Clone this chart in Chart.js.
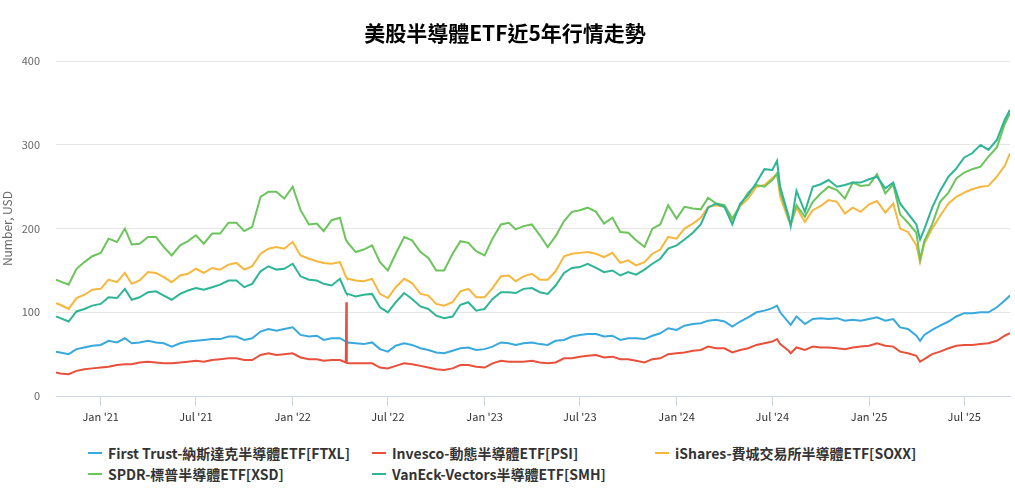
<!DOCTYPE html>
<html>
<head>
<meta charset="utf-8">
<script src="https://cdn.jsdelivr.net/npm/chart.js@4/dist/chart.umd.min.js"></script>
<style>
	body { margin: 0; background: #fff; }
	#wrap { position: relative; width: 1015px; height: 488px; }
	#legend { position: absolute; left: 0; top: 440px; width: 1015px; height: 48px;
		font-family: 'Noto Sans CJK TC', 'Noto Sans', sans-serif; font-weight: bold; font-size: 14px; color: #333; }
	.item { position: absolute; display: flex; align-items: center; white-space: nowrap; line-height: 18px; }
	.item .sym { display: inline-block; width: 14px; height: 2px; margin-right: 6px; }
</style>
</head>
<body>
<div id="wrap">
	<canvas id="chart" width="1015" height="440"></canvas>
	<div id="legend"></div>
</div>
<script>
const dates = [
	'2020-10-08', '2020-10-16', '2020-11-01', '2020-11-16', '2020-12-01', '2020-12-16',
	'2021-01-01', '2021-01-16', '2021-02-01', '2021-02-16', '2021-03-01', '2021-03-16',
	'2021-04-01', '2021-04-16', '2021-05-01', '2021-05-16', '2021-06-01', '2021-06-16',
	'2021-07-01', '2021-07-16', '2021-08-01', '2021-08-16', '2021-09-01', '2021-09-16',
	'2021-10-01', '2021-10-16', '2021-11-01', '2021-11-16', '2021-12-01', '2021-12-16',
	'2022-01-01', '2022-01-16', '2022-02-01', '2022-02-16', '2022-03-01', '2022-03-16',
	'2022-04-01', '2022-04-12', '2022-04-13', '2022-04-14', '2022-04-16', '2022-05-01',
	'2022-05-16', '2022-06-01', '2022-06-16', '2022-07-01', '2022-07-16', '2022-08-01',
	'2022-08-16', '2022-09-01', '2022-09-16', '2022-10-01', '2022-10-16', '2022-11-01',
	'2022-11-16', '2022-12-01', '2022-12-16',
	'2023-01-01', '2023-01-16', '2023-02-01', '2023-02-16', '2023-03-01', '2023-03-16',
	'2023-04-01', '2023-04-16', '2023-05-01', '2023-05-16', '2023-06-01', '2023-06-16',
	'2023-07-01', '2023-07-16', '2023-08-01', '2023-08-16', '2023-09-01', '2023-09-16',
	'2023-10-01', '2023-10-16', '2023-11-01', '2023-11-16', '2023-12-01', '2023-12-16',
	'2024-01-01', '2024-01-16', '2024-02-01', '2024-02-16', '2024-03-01', '2024-03-16',
	'2024-04-01', '2024-04-16', '2024-05-01', '2024-05-16', '2024-06-01', '2024-06-16',
	'2024-07-01', '2024-07-10', '2024-07-16', '2024-08-01', '2024-08-05', '2024-08-16',
	'2024-09-01', '2024-09-16', '2024-10-01', '2024-10-16', '2024-11-01', '2024-11-16',
	'2024-12-01', '2024-12-16',
	'2025-01-01', '2025-01-16', '2025-02-01', '2025-02-16', '2025-03-01', '2025-03-16',
	'2025-04-01', '2025-04-08', '2025-04-16', '2025-05-01', '2025-05-16', '2025-06-01',
	'2025-06-16', '2025-07-01', '2025-07-16', '2025-08-01', '2025-08-16', '2025-09-01',
	'2025-09-16', '2025-09-26'
];

// First Trust FTXL
const ftxl = [
	53, 52, 50, 56, 58, 60, 61, 66, 64, 69,
	63, 64, 66, 64, 63, 59, 63, 65, 66, 67,
	68, 68, 71, 71, 67, 69, 77, 80, 78, 80,
	82, 73, 71, 72, 67, 69, 69, 65, 65, 64,
	64, 63, 62, 64, 56, 53, 60, 63, 61, 57,
	55, 52, 51, 54, 57, 58, 55, 56, 59, 64,
	63, 61, 63, 64, 62, 61, 66, 67, 71, 73,
	74, 74, 71, 72, 67, 69, 69, 68, 72, 75,
	81, 79, 84, 86, 87, 90, 91, 89, 83, 89,
	94, 100, 102, 105, 108, 100, 88, 85, 95, 86,
	92, 93, 92, 93, 90, 91, 90, 92, 94, 90,
	92, 82, 80, 72, 66, 73, 79, 84, 89, 95,
	99, 99, 100, 100, 106, 114, 120
];

// Invesco PSI
const psi = [
	28, 27, 26, 30, 32, 33, 34, 35, 37, 38,
	38, 40, 41, 40, 39, 39, 40, 41, 42, 41,
	43, 44, 45, 45, 43, 43, 49, 51, 49, 50,
	51, 46, 44, 44, 42, 43, 43, 40, 112, 40,
	39, 39, 39, 39, 34, 33, 36, 39, 38, 36,
	34, 32, 31, 33, 37, 37, 35, 34, 39, 42,
	41, 41, 41, 42, 40, 39, 40, 45, 45, 47,
	48, 49, 46, 47, 44, 44, 42, 40, 44, 45,
	50, 51, 52, 54, 55, 59, 57, 57, 52, 55,
	57, 61, 63, 65, 68, 62, 54, 51, 58, 55,
	59, 58, 58, 57, 56, 58, 59, 60, 63, 60,
	59, 53, 51, 48, 41, 44, 50, 53, 57, 60,
	61, 61, 62, 63, 66, 72, 75
];

// iShares SOXX
const soxx = [
	111, 109, 104, 117, 121, 127, 128, 139, 136, 147,
	134, 138, 148, 147, 142, 136, 144, 146, 152, 147,
	153, 151, 157, 159, 151, 155, 170, 176, 178, 176,
	184, 168, 164, 161, 159, 158, 160, 143, 142, 141,
	140, 138, 137, 140, 122, 117, 130, 140, 135, 122,
	120, 110, 108, 112, 125, 128, 118, 118, 129, 143,
	144, 137, 143, 146, 139, 139, 149, 167, 170, 171,
	172, 170, 166, 171, 159, 162, 156, 160, 170, 175,
	190, 188, 200, 206, 213, 226, 228, 226, 210, 227,
	236, 250, 252, 260, 265, 238, 210, 205, 225, 208,
	222, 227, 234, 232, 218, 225, 220, 229, 233, 219,
	230, 200, 196, 180, 160, 182, 200, 215, 230, 238,
	243, 247, 250, 251, 262, 275, 290
];

// SPDR XSD
const xsd = [
	139, 137, 133, 152, 160, 167, 171, 188, 184, 200,
	181, 182, 190, 190, 178, 168, 180, 185, 192, 182,
	194, 194, 207, 207, 197, 202, 238, 244, 244, 236,
	250, 222, 205, 206, 197, 210, 213, 187, 186, 185,
	183, 172, 175, 180, 160, 150, 170, 190, 186, 172,
	165, 150, 150, 170, 185, 183, 173, 168, 188, 205,
	207, 199, 203, 205, 192, 178, 191, 209, 220, 222,
	225, 220, 206, 213, 196, 195, 186, 178, 200, 205,
	228, 212, 226, 224, 223, 237, 230, 228, 212, 228,
	243, 252, 250, 258, 266, 245, 212, 205, 228, 214,
	232, 242, 250, 246, 236, 255, 251, 252, 265, 242,
	253, 217, 207, 195, 163, 185, 205, 232, 243, 260,
	267, 271, 274, 286, 297, 325, 338
];

// VanEck SMH
const smh = [
	95, 93, 89, 101, 104, 108, 110, 118, 117, 128,
	115, 118, 124, 125, 120, 115, 122, 126, 129, 127,
	130, 133, 138, 138, 130, 134, 149, 155, 151, 152,
	158, 143, 139, 138, 134, 132, 140, 124, 123, 122,
	122, 119, 121, 122, 106, 100, 112, 123, 116, 107,
	104, 96, 93, 95, 109, 112, 102, 104, 116, 124,
	124, 123, 128, 129, 124, 122, 132, 147, 153, 154,
	158, 153, 148, 150, 144, 148, 145, 151, 158, 164,
	176, 180, 187, 195, 205, 225, 230, 226, 205, 230,
	240, 255, 271, 270, 281, 250, 215, 203, 245, 220,
	250, 253, 258, 250, 252, 255, 255, 259, 262, 248,
	255, 230, 218, 205, 187, 199, 225, 245, 262, 272,
	285, 290, 300, 294, 306, 330, 342
];

const seriesNames = [
	'First Trust-納斯達克半導體ETF[FTXL]',
	'Invesco-動態半導體ETF[PSI]',
	'iShares-費城交易所半導體ETF[SOXX]',
	'SPDR-標普半導體ETF[XSD]',
	'VanEck-Vectors半導體ETF[SMH]'
];
const seriesValues = [ftxl, psi, soxx, xsd, smh];
const colors = ['#38a9dc', '#e9503c', '#f6b73c', '#6cc45c', '#2db596'];

const tickDates = ['2021-01-01', '2021-07-01', '2022-01-01', '2022-07-01', '2023-01-01',
	'2023-07-01', '2024-01-01', '2024-07-01', '2025-01-01', '2025-07-01'];
const tickLabels = ["Jan '21", "Jul '21", "Jan '22", "Jul '22", "Jan '23",
	"Jul '23", "Jan '24", "Jul '24", "Jan '25", "Jul '25"];

const toMs = d => Date.parse(d + 'T00:00:00Z');
const font = "'Noto Sans CJK TC', 'Noto Sans', sans-serif";

const datasets = seriesValues.map((values, i) => ({
	label: seriesNames[i],
	data: values.map((v, j) => ({ x: toMs(dates[j]), y: v })),
	borderColor: colors[i],
	backgroundColor: colors[i],
	borderWidth: 2,
	pointRadius: 0,
	tension: 0,
	order: seriesValues.length - i
}));

const ctx = document.getElementById('chart').getContext('2d');

const chart = new Chart(ctx, {
	type: 'line',
	data: { datasets: datasets },
	options: {
		responsive: false,
		animation: false,
		layout: { padding: { left: 0, right: 5, top: 0, bottom: 0 } },
		plugins: {
			legend: { display: false },
			tooltip: { enabled: false },
			title: {
				display: true,
				text: '美股半導體ETF近5年行情走勢',
				color: '#000',
				font: { family: font, size: 21, weight: 'bold' },
				padding: { top: 20, bottom: 16 }
			}
		},
		scales: {
			x: {
				type: 'linear',
				min: toMs(dates[0]),
				max: toMs(dates[dates.length - 1]),
				afterBuildTicks: scale => {
					scale.ticks = tickDates.map(d => ({ value: toMs(d) }));
				},
				afterFit: scale => { scale.height = 44; },
				ticks: {
					autoSkip: false,
					maxRotation: 0,
					padding: 4,
					color: '#333',
					font: { family: font, size: 11 },
					callback: value => tickLabels[tickDates.map(toMs).indexOf(value)]
				},
				grid: { drawOnChartArea: false, color: '#ccd6eb', tickLength: 10 },
				border: { color: '#ccd6eb' }
			},
			y: {
				min: 0,
				max: 400,
				afterFit: scale => { scale.width = 56; },
				ticks: {
					stepSize: 100,
					padding: 16,
					color: '#666',
					font: { family: font, size: 11 }
				},
				grid: { color: '#e6e6e6', drawTicks: false },
				border: { display: false },
				title: {
					display: true,
					text: 'Number, USD',
					color: '#666',
					font: { family: font, size: 12 },
					padding: { top: 0, bottom: 0 }
				}
			}
		}
	}
});

// legend laid out in three columns like the original
const legendCols = [88, 372, 655];
const legendRows = [4, 25];
const legendEl = document.getElementById('legend');
chart.data.datasets.forEach((ds, i) => {
	const item = document.createElement('div');
	item.className = 'item';
	item.style.left = legendCols[i % 3] + 'px';
	item.style.top = legendRows[Math.floor(i / 3)] + 'px';
	const sym = document.createElement('span');
	sym.className = 'sym';
	sym.style.background = ds.borderColor;
	item.appendChild(sym);
	item.appendChild(document.createTextNode(ds.label));
	legendEl.appendChild(item);
});
</script>
</body>
</html>
